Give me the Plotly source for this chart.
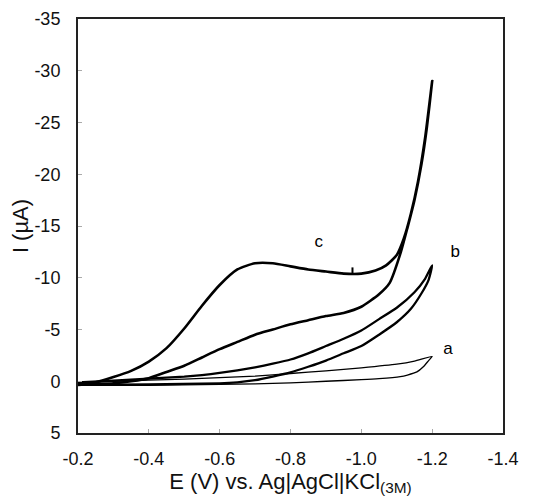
"""
plot.py — cyclic voltammograms a, b, c (plotly)
"""
import plotly.graph_objects as go

# curve a (thin): outward branch then return branch
a_E = [-0.20, -0.30, -0.40, -0.50, -0.60, -0.70, -0.80, -0.90, -1.00, -1.10, -1.15, -1.20,
       -1.19, -1.175, -1.157, -1.13, -1.11, -1.05, -1.00, -0.90, -0.80, -0.70, -0.60, -0.40, -0.20]
a_I = [0.10, 0.00, -0.10, -0.20, -0.35, -0.50, -0.75, -1.00, -1.30, -1.65, -1.95, -2.40,
       -2.00, -1.40, -0.90, -0.60, -0.45, -0.25, -0.15, 0.00, 0.15, 0.25, 0.30, 0.40, 0.40]

# curve b
b_E = [-0.20, -0.40, -0.60, -0.65, -0.70, -0.75, -0.80, -0.85, -0.90, -0.95, -1.00, -1.05,
       -1.10, -1.14, -1.17, -1.19, -1.20,
       -1.18, -1.15, -1.10, -1.05, -1.00, -0.95, -0.90, -0.85, -0.80, -0.75, -0.70, -0.65,
       -0.60, -0.55, -0.50, -0.45, -0.40, -0.30, -0.20]
b_I = [0.35, 0.30, 0.20, 0.10, -0.10, -0.45, -0.85, -1.40, -2.00, -2.70, -3.40, -4.50,
       -5.70, -7.00, -8.50, -9.80, -11.20,
       -9.90, -8.60, -7.10, -6.00, -4.90, -4.10, -3.40, -2.70, -2.10, -1.70, -1.35, -1.05,
       -0.80, -0.60, -0.45, -0.35, -0.25, -0.05, 0.10]

# curve c
c_E = [-0.20, -0.25, -0.30, -0.35, -0.40, -0.45, -0.50, -0.55, -0.60, -0.65, -0.70, -0.75,
       -0.80, -0.85, -0.90, -0.95, -1.00, -1.04, -1.07, -1.10, -1.12, -1.14, -1.16, -1.18, -1.20,
       -1.185, -1.17, -1.15, -1.13, -1.11, -1.08, -1.05, -1.00, -0.95, -0.90, -0.85, -0.80,
       -0.75, -0.70, -0.65, -0.60, -0.55, -0.50, -0.45, -0.40, -0.35, -0.30, -0.20]
c_I = [0.30, 0.10, -0.40, -1.00, -1.90, -3.20, -5.10, -7.30, -9.30, -10.80, -11.40, -11.40,
       -11.10, -10.80, -10.60, -10.40, -10.40, -10.70, -11.20, -12.20, -13.80, -16.20, -19.30, -23.50, -29.00,
       -24.50, -21.00, -17.50, -14.80, -12.30, -9.50, -8.40, -7.20, -6.60, -6.30, -5.90, -5.50,
       -5.00, -4.50, -3.80, -3.10, -2.30, -1.50, -0.90, -0.30, 0.00, 0.20, 0.35]

# small glitch on the c forward scan near -0.98 V
spike_E = [-0.975, -0.975]
spike_I = [-10.4, -11.0]

labels = ["a", "b", "c"]
label_E = [-1.245, -1.265, -0.88]
label_I = [-3.0, -12.4, -13.4]

x_ticks = [-0.2, -0.4, -0.6, -0.8, -1.0, -1.2, -1.4]
y_ticks = [5, 0, -5, -10, -15, -20, -25, -30, -35]

FONT = "Arial, Liberation Sans, sans-serif"

fig = go.Figure()
for E, I, w in [(a_E, a_I, 1.3), (b_E, b_I, 2.3), (c_E, c_I, 2.6)]:
    fig.add_trace(go.Scatter(x=E, y=I, mode="lines",
                             line=dict(color="black", width=w, shape="spline", smoothing=0.6),
                             showlegend=False, hoverinfo="skip"))
fig.add_trace(go.Scatter(x=spike_E, y=spike_I, mode="lines",
                         line=dict(color="black", width=2),
                         showlegend=False, hoverinfo="skip"))

fig.add_trace(go.Scatter(x=label_E, y=label_I, mode="text", text=labels,
                         textfont=dict(family=FONT, size=17, color="black"),
                         showlegend=False, hoverinfo="skip"))

axis_common = dict(showline=True, mirror=True, linewidth=2, linecolor="#222",
                   ticks="inside", ticklen=4, tickcolor="#aaa", tickwidth=1,
                   showgrid=False, zeroline=False, automargin=False,
                   tickfont=dict(family=FONT, size=18, color="#111"))

# page body keeps an 8px margin, so the figure is a bit smaller than the window
fig.update_layout(
    width=526, height=491,
    margin=dict(l=70, r=31, t=11, b=66),
    paper_bgcolor="white", plot_bgcolor="white",
    xaxis=dict(range=[-0.2, -1.4], tickvals=x_ticks,
               ticktext=[f"{v:.1f}" for v in x_ticks],
               ticklabelstandoff=8,
               title=dict(text="E (V) vs. Ag|AgCl|KCl<sub>(3M)</sub>",
                          font=dict(family=FONT, size=22, color="#111"), standoff=0),
               **axis_common),
    yaxis=dict(range=[5, -35], tickvals=y_ticks,
               ticktext=[str(v) for v in y_ticks], ticklabelstandoff=12,
               title=dict(text="I (µA)", font=dict(family=FONT, size=22, color="#111"),
                          standoff=4),
               **axis_common),
)

fig.write_html("out.html")
